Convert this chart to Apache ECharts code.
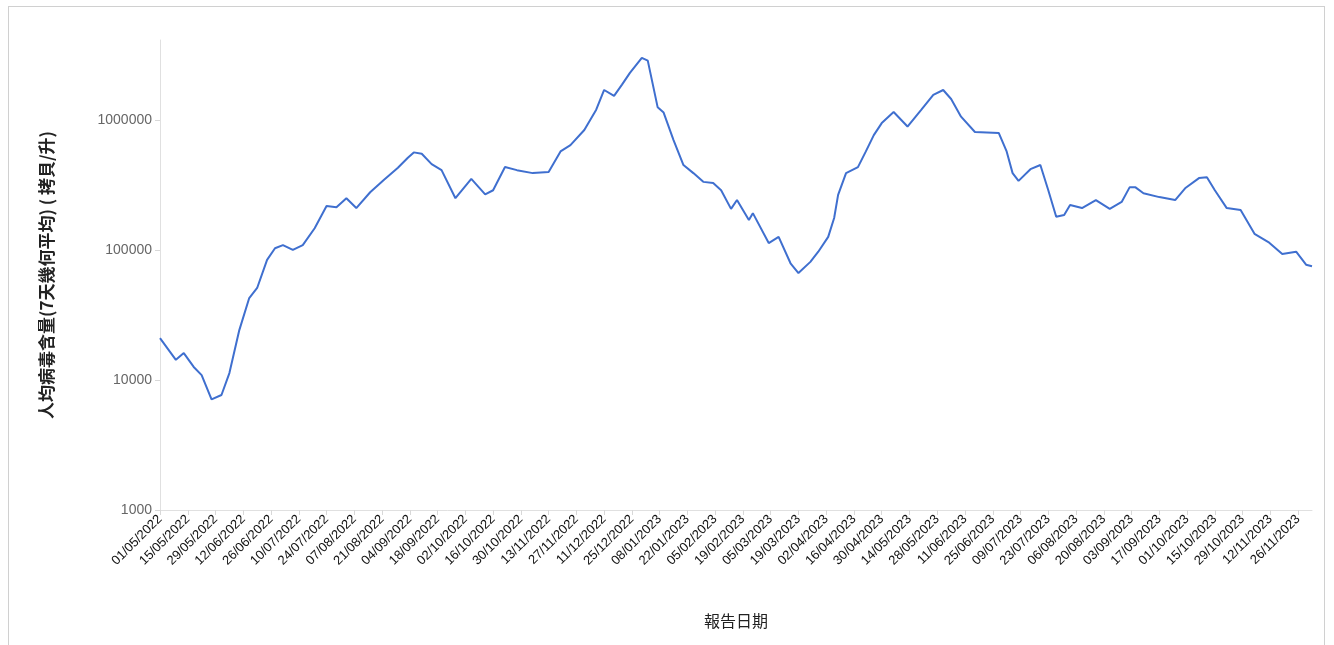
<html>
<head>
<meta charset="utf-8">
<title></title>
<script src="https://cdn.jsdelivr.net/npm/echarts@6/dist/echarts.min.js"></script>
<style>
  body{margin:0;background:#fff;}
  #frame{position:absolute;left:8px;top:6px;width:1317px;height:650px;border:1px solid #d0d0d0;box-sizing:border-box;}
  #main{position:absolute;left:0;top:0;width:1334px;height:645px;}
</style>
</head>
<body>
<div id="frame"></div>
<div id="main"></div>
<script>
// days after 01/05/2022 at which the curve was read, and the reading
var readingDays=[0,8,12,17,21,26,31,35,40,45,49,54,58,62,67,72,78,84,89,94,99,106,113,120,125,128,132,137,142,149,157,164,168,174,180,188,196,202,207,214,220,224,229,233,237,243,246,251,254,259,264,269,274,279,283,288,291,297,299,307,312,318,322,328,332,337,340,342,346,352,356,360,364,370,377,384,390,395,399,404,411,423,427,430,433,439,444,448,452,456,459,465,472,479,485,489,492,496,504,512,517,524,528,532,538,545,552,559,566,573,578,581];
var virusLoad=[21000,14300,16100,12600,10900,7100,7660,11300,24200,42700,51000,84000,103000,109000,100000,109000,147000,218000,213000,250000,210000,278000,347000,429000,512000,563000,550000,457000,411000,250000,352000,268000,288000,434000,411000,390000,398000,573000,640000,837000,1200000,1700000,1530000,1870000,2300000,3000000,2860000,1250000,1140000,700000,450000,390000,334000,327000,288000,207000,242000,170000,192000,113000,126000,79000,66400,81000,97000,126000,176000,265000,390000,434000,573000,765000,946000,1150000,890000,1200000,1560000,1700000,1450000,1060000,808000,795000,573000,390000,340000,418000,450000,288000,180000,186000,222000,210000,242000,207000,234000,303000,303000,273000,255000,242000,298000,357000,363000,288000,210000,203000,133000,115000,93000,97000,77000,75000];
var yTicks=[1000,10000,100000,1000000];

var start=new Date(2022,4,1);
var totalDays=582;
var dates=[];
for(var i=0;i<totalDays;i++){
  var d=new Date(start.getTime()+i*86400000+3600000*12);
  var dd=('0'+d.getDate()).slice(-2),mm=('0'+(d.getMonth()+1)).slice(-2);
  dates.push(dd+'/'+mm+'/'+d.getFullYear());
}
var seriesData=[];
for(var i=0;i<readingDays.length;i++){
  seriesData.push([dates[readingDays[i]],virusLoad[i]]);
}

var myChart=echarts.init(document.getElementById('main'));
var option={
  animation:false,
  grid:{left:160,right:22,top:40,bottom:135},
  xAxis:{
    type:'category',
    data:dates,
    boundaryGap:false,
    name:'報告日期',
    nameLocation:'middle',
    nameGap:103,
    nameTextStyle:{fontSize:16,color:'#222',fontFamily:'Noto Sans CJK TC'},
    axisLine:{lineStyle:{color:'#e0e0e0'}},
    axisTick:{interval:13,length:5,lineStyle:{color:'#d8d8d8'}},
    axisLabel:{interval:13,rotate:45,fontSize:13,color:'#111',fontFamily:'Liberation Sans',margin:7}
  },
  yAxis:{
    type:'log',
    logBase:10,
    min:1000,
    max:4120000,
    name:'人均病毒含量(7天幾何平均) ( 拷貝/升)',
    nameLocation:'middle',
    nameGap:105,
    nameTextStyle:{fontSize:17,fontWeight:'bold',color:'#222',fontFamily:'Noto Sans CJK TC'},
    axisLine:{show:true,lineStyle:{color:'#e0e0e0'}},
    axisTick:{show:true,length:5,lineStyle:{color:'#d8d8d8'}},
    splitLine:{show:false},
    axisLabel:{fontSize:14,color:'#666',fontFamily:'Liberation Sans',showMaxLabel:false,
      formatter:function(v){return yTicks.indexOf(Math.round(v))>=0?String(Math.round(v)):'';}}
  },
  series:[{
    type:'line',
    data:seriesData,
    connectNulls:true,
    showSymbol:false,
    lineStyle:{color:'#3f6fcf',width:2},
    itemStyle:{color:'#3f6fcf'}
  }]
};
myChart.setOption(option);
</script>
</body>
</html>
